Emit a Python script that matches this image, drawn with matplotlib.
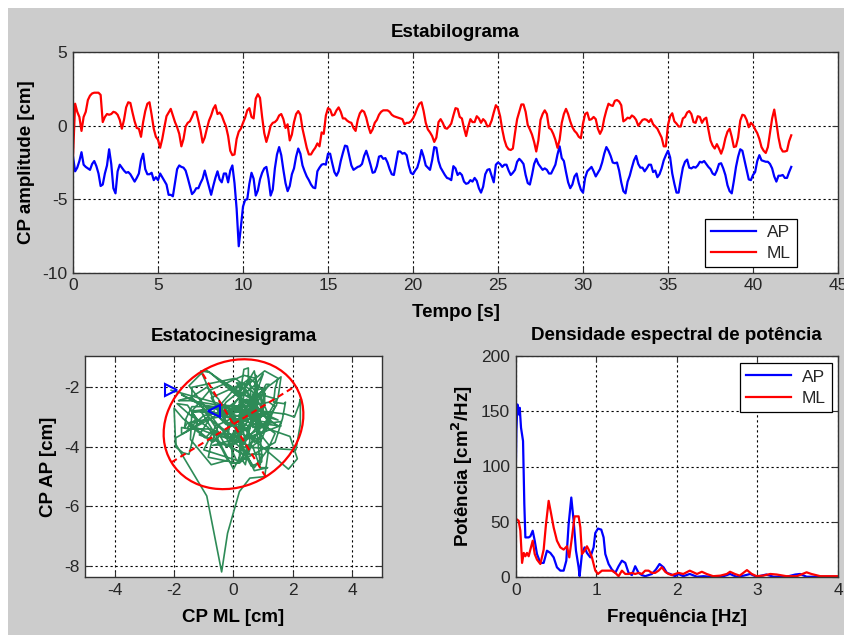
import numpy as np
import matplotlib
matplotlib.use('Agg')
import matplotlib.pyplot as plt
from matplotlib.patches import Ellipse, Rectangle

plt.rcParams['font.family'] = ['Liberation Sans', 'DejaVu Sans']
plt.rcParams['axes.unicode_minus'] = False

# ---------------- data ----------------
dt = 0.125  # step of the values [s]

ml = [-2.1, 1.5, 0.95, 0.6, -0.35, 0.6, 0.95, 1.75, 2.05, 2.2,
      2.25, 2.25, 2.25, 2.1, 0.25, 0.6, 0.8, 0.75, 0.8, 0.95,
      0.9, 0.75, 0.4, -0.2, 0.4, 1.25, 1.6, 1.55, 0.9, 0.3,
      -0.15, -0.2, -0.75, 0.25, 1.0, 1.5, 1.6, 0.75, -0.2, -0.75,
      -0.95, -1.5, -0.9, -0.1, 0.65, 0.9, 1.15, 0.7, 0.25, -0.1,
      -0.55, -1.4, -0.9, -0.05, 0.2, 0.3, 0.6, 0.95, 0.95, 0.35,
      -0.3, -1.15, -0.8, -0.2, 0.35, 0.7, 1.15, 1.4, 0.8, 0.9,
      0.7, 0.3, -0.05, -0.7, -1.7, -2.0, -1.95, -0.9, -0.4, -0.2,
      0.2, 0.55, 1.05, 1.2, 0.6, 0.5, 1.85, 2.15, 1.9, 0.6,
      -0.5, -1.1, -0.6, 0.0, 0.2, 0.25, 0.4, 0.7, 0.8, 0.45,
      -0.15, 0.1, -1.0, -0.6, 0.25, 0.8, 1.0, 0.75, -0.2, -0.85,
      -1.5, -1.95, -1.95, -1.7, -1.5, -1.2, -1.4, -0.45, -0.55, 0.7,
      1.2, 1.1, 0.7, 0.75, 1.05, 1.25, 0.95, 0.5, 0.5, 0.35,
      0.25, 0.2, -0.15, -0.35, 0.4, 0.85, 1.05, 0.95, 0.55, -0.05,
      -0.5, -0.25, 0.2, 0.4, 0.75, 0.95, 1.05, 1.05, 1.05, 0.95,
      0.75, 0.65, 0.6, 0.55, 0.5, 0.45, 0.1, 0.2, 0.2, 0.3,
      0.5, 0.8, 1.2, 1.5, 1.6, 1.0, 0.2, -0.25, -0.45, -0.7,
      -1.1, -0.8, 0.25, 0.45, 0.2, -0.15, -0.2, -0.05, 0.15, 0.7,
      1.2, 1.15, 0.6, 0.5, -0.15, -0.7, -0.05, 0.45, 0.25, 0.25,
      0.65, 0.5, 0.2, 0.45, 0.3, -0.05, 0.0, 0.35, 0.9, 1.4,
      1.2, 0.65, -0.25, -0.95, -1.4, -1.6, -1.65, -1.55, -0.5, 0.45,
      0.95, 1.45, 1.45, 0.95, 0.05, -0.25, -0.6, -1.1, -1.75, -1.0,
      0.4, 0.8, 1.05, 0.8, -0.15, -0.25, -0.55, -0.95, -1.5, -0.95,
      0.2, 0.8, 1.15, 0.8, 0.3, -0.1, -0.35, -0.5, -0.75, -0.85,
      0.15, 0.8, 0.9, 0.4, 0.45, 0.6, 0.45, -0.2, -0.55, -0.25,
      0.5, 1.05, 1.5, 1.4, 1.35, 1.7, 1.75, 1.65, 1.4, 0.3,
      0.4, 0.55, 0.5, 0.7, 0.6, 0.4, 0.0, 0.2, 0.4, 0.45,
      0.4, 0.25, 0.45, 0.1, -0.05, -0.2, -0.5, -0.8, -1.4, -1.4,
      0.05, 0.65, 0.85, 0.3, 0.15, -0.05, -0.05, 0.5, 0.6, 0.9,
      1.0, 0.8, 0.25, 0.2, 0.65, 0.6, 0.2, 0.45, 0.55, -0.25,
      -1.0, -1.35, -1.55, -1.25, -1.55, -1.9, -1.5, -0.85, -0.4, -0.2,
      -0.75, -1.45, -1.4, -0.8, 0.35, 0.75, 0.7, 0.4, -0.1, 0.2,
      0.05, -0.25, -0.5, -0.9, -1.45, -1.7, -1.85, -1.45, -0.5, 0.5,
      1.1, 0.2, -0.8, -1.5, -1.75, -1.75, -1.7, -1.05, -0.65]

ap = [-2.1, -3.1, -2.85, -2.4, -1.8, -2.65, -2.8, -2.9, -3.0, -2.6,
      -2.4, -2.75, -3.25, -4.1, -4.0, -3.25, -2.7, -1.6, -2.6, -4.25,
      -4.6, -3.1, -2.65, -2.85, -3.05, -3.2, -3.15, -3.3, -3.55, -3.8,
      -3.55, -3.25, -2.35, -1.9, -2.95, -3.3, -3.3, -3.2, -3.7, -3.5,
      -3.7, -3.25, -3.5, -3.75, -4.0, -4.7, -4.7, -4.8, -3.85, -2.95,
      -2.7, -2.8, -2.85, -3.05, -3.55, -4.1, -4.65, -4.5, -4.25, -4.25,
      -3.9, -3.6, -3.05, -3.6, -4.15, -4.7, -4.1, -3.55, -3.1, -3.65,
      -3.85, -3.25, -3.25, -3.85, -3.05, -2.7, -3.9, -5.65, -8.2, -6.9,
      -5.5, -5.05, -5.0, -3.95, -3.2, -3.6, -4.75, -4.4, -3.65, -3.2,
      -2.9, -2.8, -3.6, -4.75, -4.35, -2.9, -1.95, -1.45, -2.0, -3.0,
      -3.9, -4.45, -4.1, -3.3, -2.9, -2.1, -1.55, -1.9, -2.7, -3.1,
      -3.45, -3.7, -4.0, -4.2, -4.25, -3.1, -2.85, -2.65, -2.6, -2.65,
      -1.9, -1.9, -2.55, -3.15, -3.4, -3.1, -2.4, -1.85, -1.35, -1.4,
      -2.05, -2.7, -3.0, -2.9, -2.8, -2.75, -2.6, -2.05, -1.7, -2.15,
      -2.65, -3.2, -3.15, -2.75, -2.1, -2.05, -2.25, -2.2, -2.5, -2.95,
      -3.3, -3.35, -2.55, -1.75, -1.75, -1.9, -1.85, -2.0, -2.7, -3.2,
      -3.3, -3.05, -2.85, -2.35, -1.65, -2.1, -2.7, -2.85, -3.0, -2.35,
      -1.45, -1.5, -2.4, -2.85, -3.1, -3.35, -3.55, -3.6, -3.7, -2.75,
      -2.9, -3.35, -3.2, -3.35, -3.8, -3.95, -3.9, -3.7, -3.8, -3.55,
      -3.75, -4.25, -4.55, -4.15, -3.3, -3.0, -2.95, -3.4, -3.85, -2.65,
      -2.5, -2.6, -2.8, -2.65, -2.65, -3.05, -3.35, -3.2, -3.0, -2.45,
      -2.25, -2.4, -2.6, -3.35, -3.9, -4.0, -3.35, -2.6, -2.25, -2.6,
      -2.8, -3.0, -2.9, -3.0, -3.25, -3.25, -2.95, -2.65, -1.95, -1.4,
      -2.2, -2.4, -3.15, -3.85, -4.25, -4.0, -3.45, -3.25, -3.9, -4.35,
      -4.55, -3.55, -3.1, -2.95, -2.8, -3.1, -3.45, -3.2, -2.95, -2.5,
      -1.9, -1.45, -1.7, -2.05, -2.5, -2.55, -2.5, -3.05, -3.85, -4.45,
      -4.6, -3.8, -3.4, -2.85, -2.35, -2.05, -2.6, -2.85, -2.85, -3.1,
      -2.9, -2.65, -2.65, -3.15, -3.05, -3.5, -3.3, -2.9, -2.35, -2.0,
      -1.7, -2.15, -3.25, -3.95, -4.55, -4.55, -3.65, -2.85, -2.45, -2.3,
      -2.85, -2.9, -2.8, -2.85, -2.7, -2.45, -2.5, -2.4, -2.6, -2.8,
      -2.95, -3.25, -3.35, -3.05, -2.6, -2.55, -2.9, -3.35, -4.05, -4.45,
      -4.6, -3.75, -2.8, -2.1, -1.6, -1.7, -2.35, -3.0, -3.65, -3.7,
      -3.35, -3.15, -2.4, -2.0, -2.35, -2.4, -2.45, -2.45, -2.6, -2.9,
      -3.45, -3.8, -3.4, -3.4, -3.35, -3.55, -3.55, -3.15, -2.8]

# confidence ellipse
ell_center = (0.0, -3.24)
ell_semi_major = 2.45
ell_semi_minor = 2.07
ell_angle_deg = 31.5

# power spectral density (vertices)
freq_ap = [0.0, 0.008, 0.021, 0.037, 0.05, 0.066, 0.091, 0.107, 0.12, 0.161,
           0.182, 0.211, 0.236, 0.264, 0.306, 0.347, 0.388, 0.43, 0.471, 0.512,
           0.554, 0.595, 0.628, 0.657, 0.69, 0.719, 0.748, 0.781, 0.793, 0.822,
           0.855, 0.884, 0.926, 0.967, 0.988, 1.021, 1.062, 1.091, 1.112, 1.153,
           1.194, 1.236, 1.277, 1.318, 1.36, 1.401, 1.442, 1.483, 1.525, 1.566,
           1.607, 1.649, 1.69, 1.74, 1.785, 1.835, 1.876, 1.917, 1.979, 2.02,
           2.08, 2.16, 2.25, 2.33, 2.41, 2.49, 2.58, 2.66, 2.74, 2.83,
           2.91, 2.99, 3.11, 3.2, 3.28, 3.36, 3.47, 3.53, 3.61, 3.69,
           3.78, 4.0]
pow_ap = [88.6, 132, 156, 147, 153, 135, 123, 66, 36, 36,
          37, 42, 33, 21, 13, 13, 24, 22, 18, 9,
          6, 6, 15, 48, 72, 51, 24, 9, 1, 21,
          27, 22, 18, 27, 40, 44, 43, 36, 21, 12,
          7, 4, 10, 15, 13, 4, 2, 10, 4, 2,
          1, 2, 3, 7, 12, 9, 4, 3, 1, 3,
          1, 3, 0.5, 1, 0.5, 0.5, 1, 3, 0.5, 1.5,
          3, 0.5, 2.5, 0.5, 0.5, 0.5, 2.5, 3, 0.5, 0.5,
          0.5, 0.5]

freq_ml = [0.0, 0.037, 0.058, 0.079, 0.1, 0.12, 0.14, 0.161, 0.182, 0.211,
           0.236, 0.264, 0.306, 0.347, 0.376, 0.409, 0.438, 0.471, 0.512, 0.554,
           0.595, 0.636, 0.665, 0.698, 0.731, 0.781, 0.802, 0.822, 0.855, 0.884,
           0.913, 0.946, 0.988, 1.021, 1.07, 1.132, 1.194, 1.236, 1.277, 1.318,
           1.36, 1.401, 1.442, 1.483, 1.525, 1.566, 1.607, 1.649, 1.69, 1.731,
           1.773, 1.814, 1.855, 1.897, 1.938, 1.979, 2.02,
           2.08, 2.16, 2.25, 2.31, 2.37, 2.45, 2.54, 2.62, 2.66, 2.72,
           2.78, 2.87, 2.93, 2.99, 3.07, 3.16, 3.24, 3.36, 3.49, 3.61,
           3.67, 3.78, 3.9, 4.0]
pow_ml = [53, 51, 42, 13, 22, 19, 22, 19, 25, 33,
          21, 16, 12, 25, 48, 69, 58, 45, 33, 27,
          25, 28, 18, 36, 55, 55, 45, 21, 24, 28,
          24, 18, 6, 3, 6, 6, 6, 4, 1, 6,
          3, 3, 4, 3, 4, 3, 6, 6, 4, 4,
          6, 9, 5, 3, 2, 3, 4,
          3, 6, 3, 5, 3, 1, 1.5, 3, 5, 3,
          1.5, 6.5, 3, 1, 1.5, 3, 2.5, 1, 1, 4.5,
          3, 1, 1, 1]

series_labels = ['AP', 'ML']

# ---------------- styling ----------------
FIG_W, FIG_H = 845, 635
BG = '#cccccc'
TICK_FS = 12.5
LABEL_FS = 13.5
TICK_COLOR = '#262626'
SPINE_COLOR = '#333333'
GRID_KW = dict(color='black', linestyle=(0, (2, 2.5)), linewidth=0.8)


def px_axes(left, top, right, bottom):
    return [left / FIG_W, (FIG_H - bottom) / FIG_H,
            (right - left) / FIG_W, (bottom - top) / FIG_H]


def style(ax):
    ax.set_facecolor('white')
    for s in ax.spines.values():
        s.set_color(SPINE_COLOR)
        s.set_linewidth(1.0)
    ax.tick_params(direction='in', length=4, width=0.8, colors=SPINE_COLOR,
                   labelcolor=TICK_COLOR, labelsize=TICK_FS, pad=4,
                   top=True, right=True)
    ax.grid(True, **GRID_KW)
    ax.set_axisbelow(True)


def make_legend(ax, **kw):
    leg = ax.legend(borderaxespad=0, fontsize=TICK_FS, frameon=True, fancybox=False,
                    handlelength=2.6, handletextpad=0.6, borderpad=0.35,
                    labelspacing=0.35, framealpha=1, **kw)
    leg.get_frame().set_edgecolor('black')
    leg.get_frame().set_linewidth(0.9)
    for txt in leg.get_texts():
        txt.set_color(TICK_COLOR)
    return leg


fig = plt.figure(figsize=(FIG_W / 100, FIG_H / 100), dpi=100, facecolor=BG)
fig.add_artist(Rectangle((0, 1 - 8 / FIG_H), 1, 8 / FIG_H, transform=fig.transFigure,
                         facecolor='white', edgecolor='none', zorder=-5))
fig.add_artist(Rectangle((0, 0), 8 / FIG_W, 1, transform=fig.transFigure,
                         facecolor='white', edgecolor='none', zorder=-5))

t = np.arange(len(ap)) * dt
ap_a = np.array(ap)
ml_a = np.array(ml)

# ---------- top: stabilogram ----------
ax1 = fig.add_axes(px_axes(73, 52.3, 838, 272.7))
style(ax1)
ax1.plot(t, ap_a, color='#0000ff', lw=1.6, label=series_labels[0])
ax1.plot(t, ml_a, color='#ff0000', lw=1.6, label=series_labels[1])
ax1.set_xlim(0, 45)
ax1.set_ylim(-10, 5)
ax1.set_xticks(np.arange(0, 46, 5))
ax1.set_yticks([-10, -5, 0, 5])
ax1.set_title('Estabilograma', fontsize=LABEL_FS, fontweight='bold', pad=11)
ax1.set_xlabel('Tempo [s]', fontsize=LABEL_FS, fontweight='bold', labelpad=8)
ax1.set_ylabel('CP amplitude [cm]', fontsize=LABEL_FS, fontweight='bold', labelpad=5)
make_legend(ax1, loc='lower right', bbox_to_anchor=(0.946, 0.0245))

# ---------- bottom-left: statokinesigram ----------
ax2 = fig.add_axes(px_axes(85, 356, 382, 577))
style(ax2)
ax2.plot(ml_a, ap_a, color='#2e8b57', lw=1.2, zorder=2)
ell = Ellipse(ell_center, 2 * ell_semi_major, 2 * ell_semi_minor, angle=ell_angle_deg,
              fill=False, edgecolor='#ff0000', lw=1.6, zorder=3)
ax2.add_patch(ell)
th = np.deg2rad(ell_angle_deg)
cx, cy = ell_center
ax2.plot([cx - ell_semi_major * np.cos(th), cx + ell_semi_major * np.cos(th)],
         [cy - ell_semi_major * np.sin(th), cy + ell_semi_major * np.sin(th)],
         color='#ff0000', lw=1.5, ls='--', dashes=(3, 2), zorder=3)
ax2.plot([cx + ell_semi_minor * np.sin(th), cx - ell_semi_minor * np.sin(th)],
         [cy - ell_semi_minor * np.cos(th), cy + ell_semi_minor * np.cos(th)],
         color='#ff0000', lw=1.5, ls='--', dashes=(3, 2), zorder=3)
ax2.plot(ml_a[0], ap_a[0], marker='>', ms=8, mfc='none', mec='#0000ff', mew=1.5,
         ls='none', zorder=4)
ax2.plot(ml_a[-1], ap_a[-1], marker='<', ms=8, mfc='none', mec='#0000ff', mew=1.5,
         ls='none', zorder=4)
ax2.set_xlim(-5, 5)
ax2.set_ylim(-8.37, -0.95)
ax2.set_xticks([-4, -2, 0, 2, 4])
ax2.set_yticks([-8, -6, -4, -2])
ax2.set_title('Estatocinesigrama', fontsize=LABEL_FS, fontweight='bold', pad=11)
ax2.set_xlabel('CP ML [cm]', fontsize=LABEL_FS, fontweight='bold', labelpad=8)
ax2.set_ylabel('CP AP [cm]', fontsize=LABEL_FS, fontweight='bold', labelpad=5)

# ---------- bottom-right: PSD ----------
ax3 = fig.add_axes(px_axes(515.7, 355.7, 838, 577.3))
style(ax3)
ax3.plot(freq_ap, pow_ap, color='#0000ff', lw=1.6, label=series_labels[0])
ax3.plot(freq_ml, pow_ml, color='#ff0000', lw=1.6, label=series_labels[1])
ax3.set_xlim(0, 4)
ax3.set_ylim(0, 200)
ax3.set_xticks([0, 1, 2, 3, 4])
ax3.set_yticks([0, 50, 100, 150, 200])
ax3.set_title('Densidade espectral de potência', fontsize=LABEL_FS, fontweight='bold', pad=11)
ax3.set_xlabel('Frequência [Hz]', fontsize=LABEL_FS, fontweight='bold', labelpad=8)
ax3.set_ylabel('Potência [cm$^{\\mathbf{2}}$/Hz]', fontsize=LABEL_FS, fontweight='bold', labelpad=4)
make_legend(ax3, loc='upper right', bbox_to_anchor=(0.9805, 0.9657))

fig.savefig('out.png', dpi=100, facecolor=BG)
